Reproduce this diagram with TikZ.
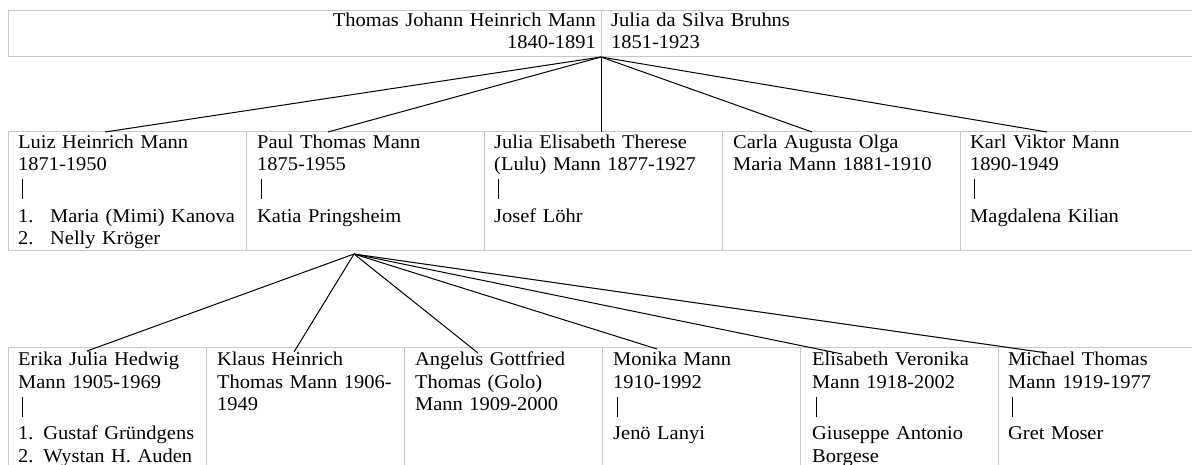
\documentclass[tikz,border=0pt]{standalone}
\usepackage{fontspec}
\setmainfont{Liberation Serif}[FakeStretch=1.05]
\definecolor{cellline}{RGB}{200,200,200}
\newcommand{\vbar}{\hspace*{4pt}\rule[-6pt]{1.2pt}{20pt}}
\newcommand{\numitem}[1]{\makebox[32pt][l]{#1}}
\begin{document}
\begin{tikzpicture}[x=1pt,y=-1pt,
  cell/.style={draw=cellline, line width=1pt, rectangle, inner sep=0pt, outer sep=0pt, anchor=north west},
  txt/.style={anchor=north west, inner sep=0pt, text width=230pt, align=left, font=\fontsize{19.5}{22.5}\selectfont},
  link/.style={draw=black, line width=1pt}]
\useasboundingbox (0,0) rectangle (1192,464);
\clip (0,0) rectangle (1192,464);
% parents
\node[cell, minimum width=593pt, minimum height=46pt] (father) at (8,10) {};
\node[cell, minimum width=620pt, minimum height=46pt] (mother) at (601,10) {};
\node[txt, text width=320pt, anchor=north east, align=right] (fatherT) at (596,10.25) {\strut Thomas Johann Heinrich Mann\\1840-1891};
\node[txt] (motherT) at (611,10.25) {\strut Julia da Silva Bruhns\\1851-1923};
% children
\node[cell, minimum width=238pt, minimum height=119pt] (luiz) at (8,131) {};
\node[cell, minimum width=238pt, minimum height=119pt] (paul) at (246,131) {};
\node[cell, minimum width=238pt, minimum height=119pt] (julia) at (484,131) {};
\node[cell, minimum width=238pt, minimum height=119pt] (carla) at (722,131) {};
\node[cell, minimum width=238pt, minimum height=119pt] (karl) at (960,131) {};
\node[txt] (luizT) at (18,132.25) {\strut Luiz Heinrich Mann\\1871-1950\\\vbar\\[6.5pt]\numitem{1.}Maria (Mimi) Kanova\\\numitem{2.}Nelly Kr\"oger};
\node[txt] (paulT) at (257,132.25) {\strut Paul Thomas Mann\\1875-1955\\\vbar\\[6.5pt]Katia Pringsheim};
\node[txt] (juliaT) at (494,132.25) {\strut Julia Elisabeth Therese\\(Lulu) Mann 1877-1927\\\vbar\\[6.5pt]Josef L\"ohr};
\node[txt] (carlaT) at (733,132.25) {\strut Carla Augusta Olga\\Maria Mann 1881-1910};
\node[txt] (karlT) at (970,132.25) {\strut Karl Viktor Mann\\1890-1949\\\vbar\\[6.5pt]Magdalena Kilian};
% grandchildren
\node[cell, minimum width=198pt, minimum height=140pt] (erika) at (8,347) {};
\node[cell, minimum width=198pt, minimum height=140pt] (klaus) at (206,347) {};
\node[cell, minimum width=198pt, minimum height=140pt] (golo) at (404,347) {};
\node[cell, minimum width=198pt, minimum height=140pt] (monika) at (602,347) {};
\node[cell, minimum width=198pt, minimum height=140pt] (elisabeth) at (800,347) {};
\node[cell, minimum width=198pt, minimum height=140pt] (michael) at (998,347) {};
\node[txt] (erikaT) at (18,349.75) {\strut Erika Julia Hedwig\\Mann 1905-1969\\\vbar\\[6.5pt]1. Gustaf Gr\"undgens\\2. Wystan H. Auden};
\node[txt] (klausT) at (217,349.75) {\strut Klaus Heinrich\\Thomas Mann 1906-\\1949};
\node[txt] (goloT) at (415,349.75) {\strut Angelus Gottfried\\Thomas (Golo)\\Mann 1909-2000};
\node[txt] (monikaT) at (613,349.75) {\strut Monika Mann\\1910-1992\\\vbar\\[6.5pt]Jen\"o Lanyi};
\node[txt] (elisabethT) at (812,349.75) {\strut Elisabeth Veronika\\Mann 1918-2002\\\vbar\\[6.5pt]Giuseppe Antonio\\Borgese};
\node[txt] (michaelT) at (1008,349.75) {\strut Michael Thomas\\Mann 1919-1977\\\vbar\\[6.5pt]Gret Moser};
% connectors
\coordinate (apexA) at (601,57);
\coordinate (apexB) at (354,254);
\coordinate (luizIn) at (105,132);
\coordinate (paulIn) at (328,132);
\coordinate (juliaIn) at (601,132);
\coordinate (carlaIn) at (812,132);
\coordinate (karlIn) at (1047,132);
\coordinate (erikaIn) at (87,351);
\coordinate (klausIn) at (294,352);
\coordinate (goloIn) at (478,353);
\coordinate (monikaIn) at (657,349);
\coordinate (elisabethIn) at (842,354);
\coordinate (michaelIn) at (1047,353);
\foreach \c in {luizIn,paulIn,juliaIn,carlaIn,karlIn} \draw[link] (apexA) -- (\c);
\foreach \c in {erikaIn,klausIn,goloIn,monikaIn,elisabethIn,michaelIn} \draw[link] (apexB) -- (\c);
\end{tikzpicture}
\end{document}
